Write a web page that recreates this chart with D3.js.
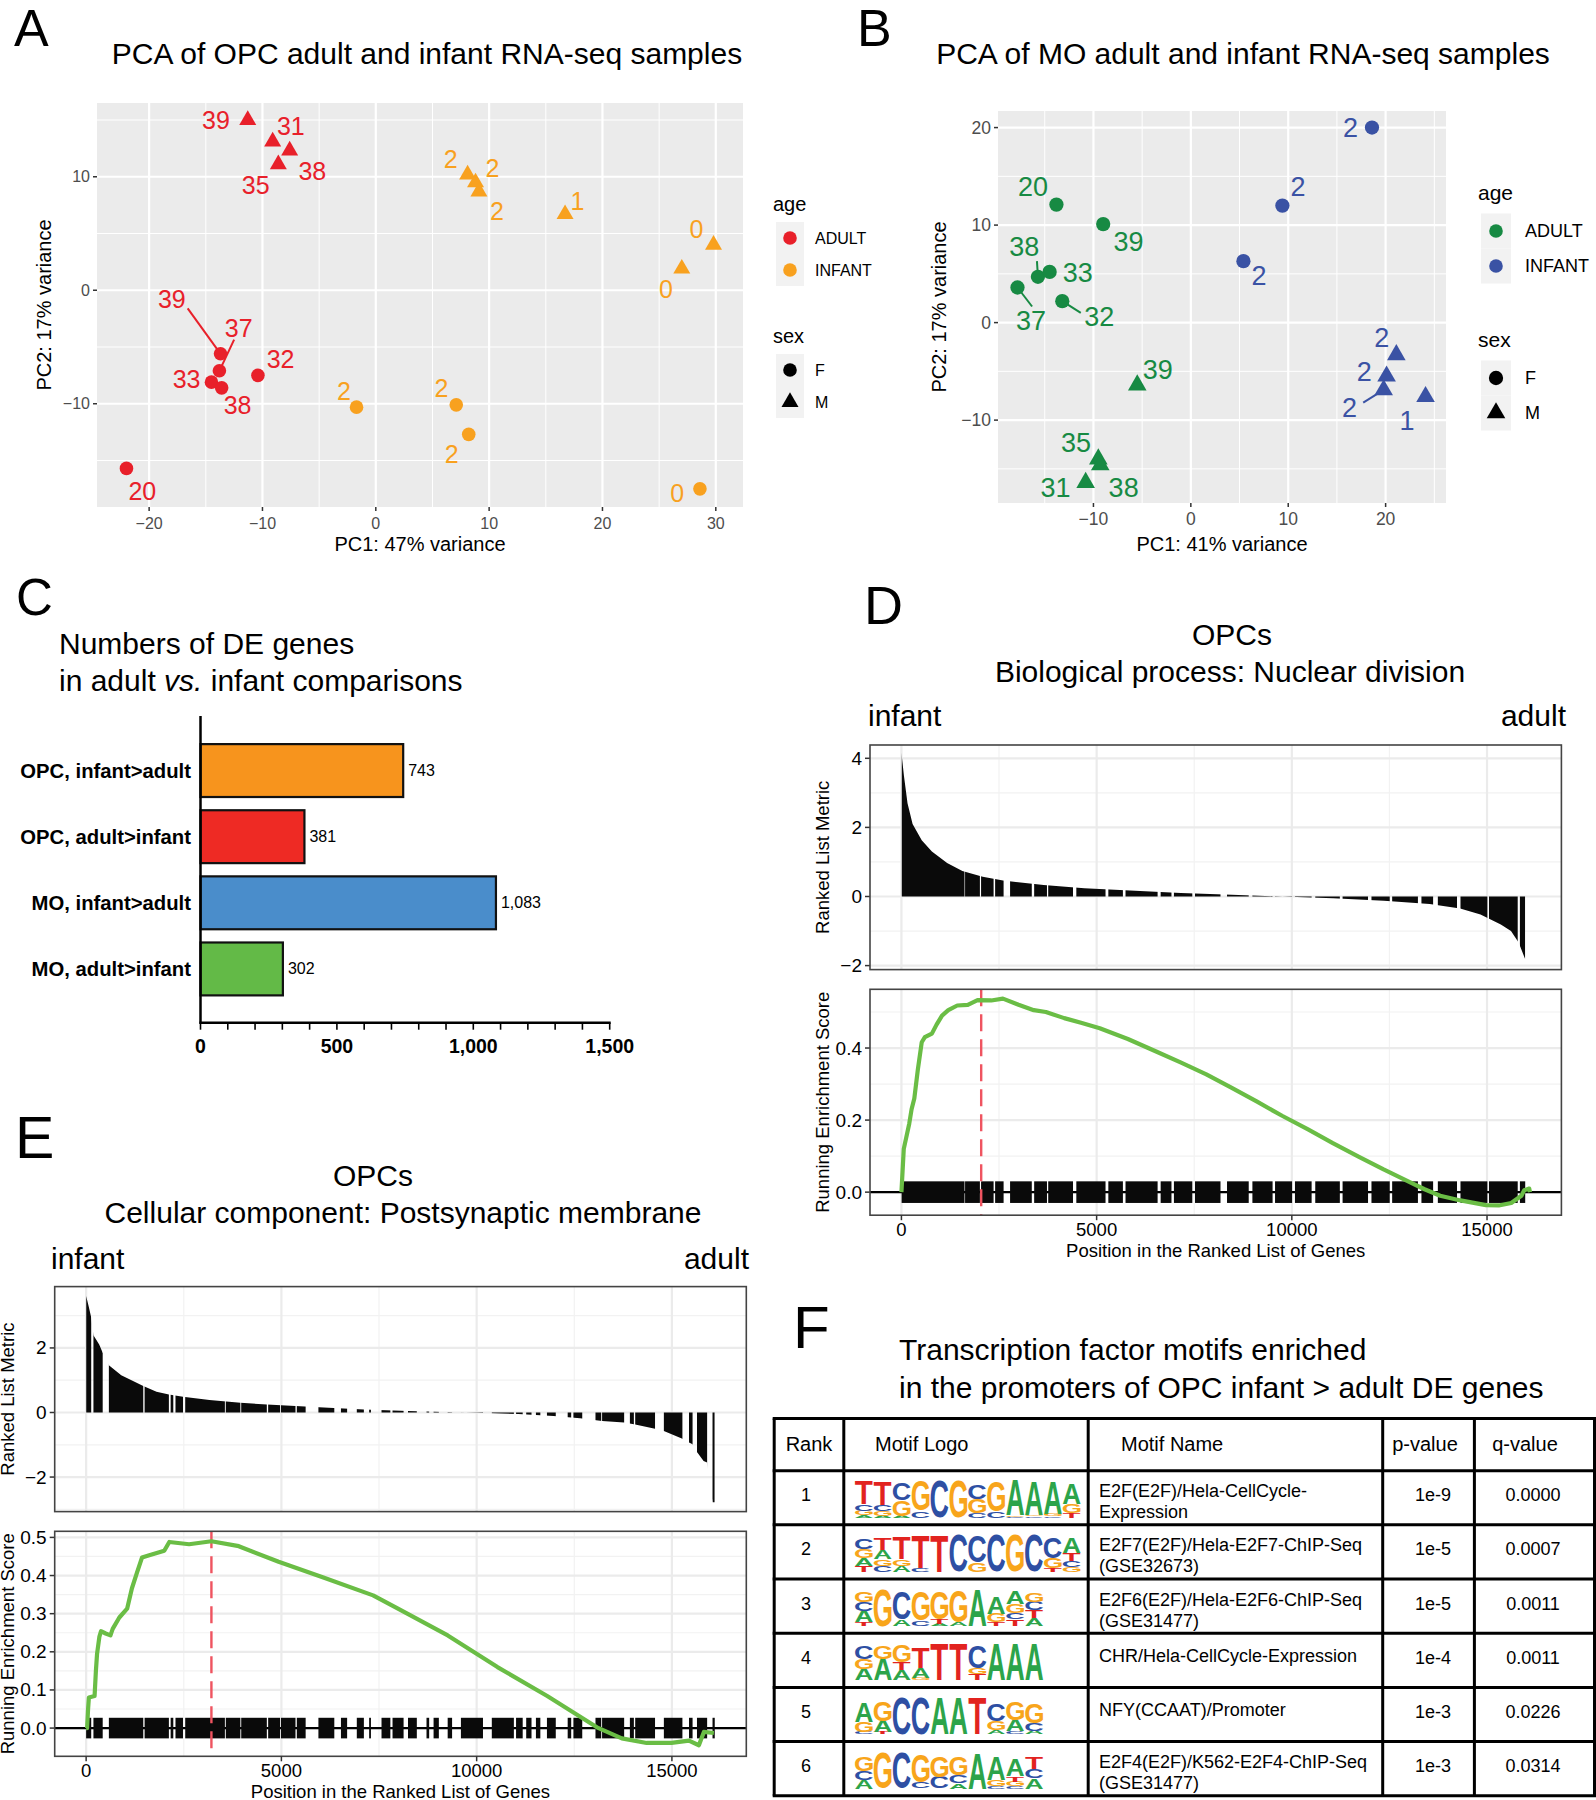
<!DOCTYPE html>
<html>
<head>
<meta charset="utf-8">
<script src="https://cdnjs.cloudflare.com/ajax/libs/d3/7.8.5/d3.min.js"></script>
<style>
  body { margin: 0; background: #fff; }
  text { font-family: "Liberation Sans", Arial, Helvetica, sans-serif; }
</style>
</head>
<body>
<svg id="fig" width="1596" height="1800"></svg>
<script>
// ---------- data ----------

// A: PCA of OPC samples
var opcSamples = [
  {label: '39', age: 'ADULT', sex: 'M', pc1: -11.3, pc2: 15.0, lx: -14.1, ly: 15.0},
  {label: '31', age: 'ADULT', sex: 'M', pc1: -9.1, pc2: 13.1, lx: -7.5, ly: 14.5},
  {label: '38', age: 'ADULT', sex: 'M', pc1: -7.6, pc2: 12.3, lx: -5.6, ly: 10.5},
  {label: '35', age: 'ADULT', sex: 'M', pc1: -8.6, pc2: 11.1, lx: -10.6, ly: 9.3},
  {label: '39', age: 'ADULT', sex: 'F', pc1: -13.7, pc2: -5.6, lx: -18.0, ly: -0.8, sx: -16.6, sy: -1.6},
  {label: '37', age: 'ADULT', sex: 'F', pc1: -13.8, pc2: -7.1, lx: -12.1, ly: -3.3, sx: -12.5, sy: -4.35},
  {label: '33', age: 'ADULT', sex: 'F', pc1: -14.5, pc2: -8.1, lx: -16.7, ly: -7.8},
  {label: '38', age: 'ADULT', sex: 'F', pc1: -13.6, pc2: -8.6, lx: -12.2, ly: -10.1},
  {label: '32', age: 'ADULT', sex: 'F', pc1: -10.4, pc2: -7.5, lx: -8.4, ly: -6.1},
  {label: '20', age: 'ADULT', sex: 'F', pc1: -22.0, pc2: -15.7, lx: -20.6, ly: -17.7},
  {label: '2', age: 'INFANT', sex: 'M', pc1: 8.1, pc2: 10.2, lx: 6.6, ly: 11.6},
  {label: '2', age: 'INFANT', sex: 'M', pc1: 8.8, pc2: 9.5, lx: 10.3, ly: 10.8},
  {label: '2', age: 'INFANT', sex: 'M', pc1: 9.1, pc2: 8.7, lx: 10.7, ly: 7.0},
  {label: '1', age: 'INFANT', sex: 'M', pc1: 16.7, pc2: 6.7, lx: 17.8, ly: 7.9},
  {label: '0', age: 'INFANT', sex: 'M', pc1: 29.8, pc2: 4.0, lx: 28.3, ly: 5.4},
  {label: '0', age: 'INFANT', sex: 'M', pc1: 27.0, pc2: 1.9, lx: 25.6, ly: 0.1},
  {label: '2', age: 'INFANT', sex: 'F', pc1: -1.7, pc2: -10.3, lx: -2.8, ly: -8.9},
  {label: '2', age: 'INFANT', sex: 'F', pc1: 7.1, pc2: -10.1, lx: 5.8, ly: -8.6},
  {label: '2', age: 'INFANT', sex: 'F', pc1: 8.2, pc2: -12.7, lx: 6.7, ly: -14.4},
  {label: '0', age: 'INFANT', sex: 'F', pc1: 28.6, pc2: -17.5, lx: 26.6, ly: -17.9}
];

// B: PCA of MO samples
var moSamples = [
  {label: '20', age: 'ADULT', sex: 'F', pc1: -13.8, pc2: 12.1, lx: -16.2, ly: 14.0},
  {label: '39', age: 'ADULT', sex: 'F', pc1: -9.0, pc2: 10.1, lx: -6.4, ly: 8.3},
  {label: '38', age: 'ADULT', sex: 'F', pc1: -15.7, pc2: 4.7, lx: -17.1, ly: 7.8, sx: -15.8, sy: 6.3},
  {label: '33', age: 'ADULT', sex: 'F', pc1: -14.5, pc2: 5.2, lx: -11.6, ly: 5.2},
  {label: '37', age: 'ADULT', sex: 'F', pc1: -17.8, pc2: 3.6, lx: -16.4, ly: 0.2, sx: -16.3, sy: 1.65},
  {label: '32', age: 'ADULT', sex: 'F', pc1: -13.2, pc2: 2.2, lx: -9.4, ly: 0.6, sx: -11.3, sy: 1.0},
  {label: '39', age: 'ADULT', sex: 'M', pc1: -5.5, pc2: -6.4, lx: -3.4, ly: -4.8},
  {label: '35', age: 'ADULT', sex: 'M', pc1: -9.5, pc2: -14.0, lx: -11.8, ly: -12.3},
  {label: '38', age: 'ADULT', sex: 'M', pc1: -9.3, pc2: -14.6, lx: -6.9, ly: -16.9},
  {label: '31', age: 'ADULT', sex: 'M', pc1: -10.8, pc2: -16.4, lx: -13.9, ly: -16.9},
  {label: '2', age: 'INFANT', sex: 'F', pc1: 18.6, pc2: 20.0, lx: 16.4, ly: 20.0},
  {label: '2', age: 'INFANT', sex: 'F', pc1: 9.4, pc2: 12.0, lx: 11.0, ly: 14.0},
  {label: '2', age: 'INFANT', sex: 'F', pc1: 5.4, pc2: 6.3, lx: 7.0, ly: 4.9},
  {label: '2', age: 'INFANT', sex: 'M', pc1: 21.1, pc2: -3.3, lx: 19.6, ly: -1.5},
  {label: '2', age: 'INFANT', sex: 'M', pc1: 20.1, pc2: -5.5, lx: 17.8, ly: -5.0},
  {label: '2', age: 'INFANT', sex: 'M', pc1: 19.8, pc2: -6.9, lx: 16.3, ly: -8.7, sx: 17.7, sy: -8.2},
  {label: '1', age: 'INFANT', sex: 'M', pc1: 24.1, pc2: -7.6, lx: 22.2, ly: -10.0}
];

// C: numbers of DE genes
var deCategories = ['OPC, infant>adult', 'OPC, adult>infant', 'MO, infant>adult', 'MO, adult>infant'];
var deCounts = [743, 381, 1083, 302];
var deColors = ['#f7941d', '#ee2a24', '#4a8dcb', '#63ba47'];
var deTicks = [0, 500, 1000, 1500];

// D: nuclear division (position, value)
var ndMetric = [[0, 4.16], [65, 3.49], [156, 2.70], [286, 2.10], [520, 1.63], [780, 1.30], [1170, 0.97],
  [1561, 0.74], [2082, 0.57], [2602, 0.46], [3643, 0.33], [4684, 0.24], [5855, 0.17], [7156, 0.10],
  [8457, 0.05], [9758, 0.0], [11059, -0.05], [12360, -0.12], [13531, -0.22], [14312, -0.35],
  [14833, -0.52], [15353, -0.81], [15614, -1.0], [15809, -1.33], [15978, -1.82]];
var ndHits = [[5, 1616], [1630, 2010], [2040, 2361], [2400, 2617], [2783, 3339], [3400, 3728], [3760, 4395],
  [4480, 5228], [5300, 5673], [5740, 6562], [6640, 6917], [6980, 7451], [7520, 8173], [8340, 8896],
  [8990, 9507], [9570, 10007], [10080, 10507], [10600, 11230], [11300, 11952], [12040, 12508],
  [12570, 13230], [13320, 13619], [13740, 14231], [14320, 15009], [15050, 15786], [15842, 15978]];
var ndEs = [[0, 0], [30, 0.06], [60, 0.12], [120, 0.15], [200, 0.19], [260, 0.23], [330, 0.26], [420, 0.34],
  [520, 0.416], [600, 0.43], [780, 0.44], [900, 0.465], [1040, 0.49], [1200, 0.505], [1430, 0.518],
  [1700, 0.52], [1950, 0.533], [2300, 0.532], [2600, 0.537], [3000, 0.52], [3390, 0.505], [3700, 0.50],
  [4170, 0.483], [4600, 0.47], [5080, 0.455], [5800, 0.425], [6510, 0.391], [7150, 0.36], [7810, 0.327],
  [8450, 0.29], [9110, 0.251], [9750, 0.212], [10415, 0.174], [11050, 0.136], [11720, 0.098],
  [12350, 0.063], [13020, 0.028], [13400, 0.008], [13800, -0.01], [14320, -0.023], [14970, -0.036],
  [15300, -0.037], [15620, -0.03], [15880, -0.01], [15950, 0.005], [16080, 0.01], [16100, 0.0]];
var ndPeak = 2043;

// E: postsynaptic membrane
var psMetric = [[0, 3.61], [63, 3.30], [130, 2.94], [187, 2.39], [334, 2.11], [424, 1.85], [582, 1.46],
  [899, 1.15], [1463, 0.82], [1802, 0.64], [2119, 0.56], [2480, 0.49], [3158, 0.39], [3949, 0.30],
  [4627, 0.25], [5361, 0.20], [6208, 0.15], [7112, 0.09], [8242, 0.05], [9371, 0.01], [10049, -0.01],
  [11066, -0.05], [11970, -0.11], [12648, -0.18], [13212, -0.26], [13777, -0.31], [14060, -0.37],
  [14568, -0.50], [14794, -0.57], [15269, -0.81], [15438, -0.93], [15529, -0.98], [15642, -1.22],
  [15811, -1.50], [15902, -1.55], [16040, -2.78], [16097, -2.78]];
var psHits = [[0, 130], [187, 424], [582, 1463], [1497, 2119], [2164, 2232], [2288, 2480], [2537, 3553],
  [3576, 3949], [3971, 4627], [4661, 4965], [4988, 5361], [5395, 5621], [5948, 6355], [6525, 6683],
  [6931, 7112], [7247, 7293], [7564, 7790], [7846, 8129], [8242, 8468], [8716, 8784], [8897, 9032],
  [9258, 9371], [9597, 10162], [10388, 10953], [11009, 11179], [11269, 11405], [11518, 11631],
  [11800, 12026], [12331, 12421], [12478, 12704], [13043, 13190], [13212, 13777], [13924, 14026],
  [14060, 14568], [14794, 15269], [15438, 15529], [15642, 15902], [16040, 16097]];
var psEs = [[0, 0], [25, 0.0], [50, 0.05], [70, 0.08], [216, 0.084], [250, 0.15], [280, 0.195], [340, 0.24],
  [380, 0.254], [500, 0.248], [623, 0.243], [680, 0.26], [850, 0.29], [1050, 0.313], [1171, 0.366],
  [1300, 0.407], [1430, 0.447], [1617, 0.453], [2000, 0.465], [2130, 0.488], [2637, 0.482], [3208, 0.49],
  [3909, 0.477], [4929, 0.436], [6075, 0.395], [7348, 0.348], [7985, 0.313], [9260, 0.243],
  [10533, 0.16], [11807, 0.084], [13080, 0.002], [13717, -0.027], [14354, -0.039], [14989, -0.039],
  [15435, -0.033], [15691, -0.045], [15819, -0.01], [16075, -0.013]];
var psPeak = 3208;

var geneAxisDomain = [-805, 16905];
var geneTicks = [0, 5000, 10000, 15000];

// F: motif table
var motifRanks = [1, 2, 3, 4, 5, 6];
var motifNames = [['E2F(E2F)/Hela-CellCycle-', 'Expression'], ['E2F7(E2F)/Hela-E2F7-ChIP-Seq', '(GSE32673)'],
  ['E2F6(E2F)/Hela-E2F6-ChIP-Seq', '(GSE31477)'], ['CHR/Hela-CellCycle-Expression'],
  ['NFY(CCAAT)/Promoter'], ['E2F4(E2F)/K562-E2F4-ChIP-Seq', '(GSE31477)']];
var motifPValues = ['1e-9', '1e-5', '1e-5', '1e-4', '1e-3', '1e-3'];
var motifQValues = ['0.0000', '0.0007', '0.0011', '0.0011', '0.0226', '0.0314'];
// each column: letters top to bottom with relative height (percent)
var motifLogos = [
  ['T58 C16 G12 A6', 'T58 C15 G12 A5', 'C42 G40 A5', 'G78 C18', 'C95', 'G93', 'C38 G36 C12', 'G78 C16',
   'A88 G4 C3', 'A86 G4 C4', 'A84 G5 C4', 'A52 G24 T12'],
  ['C25 G23 A20 T16', 'T29 A24 G16 C16', 'T55 G18 A15', 'T82 C9', 'T93', 'C93', 'C68 G24', 'C93', 'G93',
   'C93', 'C53 G25 T10', 'A41 T21 C16 G12'],
  ['G27 C23 A28 T10', 'G93', 'C72 A16', 'G74 C14', 'G72 T12 A5', 'G82 A8', 'A93', 'A42 G22 T9',
   'A33 G22 C17 T17', 'G22 C22 T20 A20'],
  ['C33 G25 A28', 'G33 A55', 'G42 T19 A27', 'T54 A27 G5', 'T93', 'T93', 'C57 G15 T15', 'A93', 'A93', 'A93'],
  ['A50 G27 C5', 'G52 A28 T5', 'C93', 'C93', 'A93', 'A93', 'T93', 'C42 G24 A10', 'G46 A28 C8', 'G50 C20 A9'],
  ['G37 C22 A22', 'G90', 'C90', 'G70 C15', 'G54 C30', 'G48 C20 A14', 'A90', 'A58 G15 C6', 'A42 T14 G12 C6',
   'T29 C22 A27']
];

// ---------- drawing ----------
var svg = d3.select('#fig');

function minusFmt(d) {
  return d < 0 ? '\u2212' + Math.abs(d) : String(d);
}

function panelLetter(txt, x, y, size) {
  svg.append('text').text(txt)
    .attr('x', x).attr('y', y)
    .attr('font-size', size);
}

function drawPca(cfg) {
  var g = svg.append('g');
  var x = d3.scaleLinear().domain(cfg.xDomain).range([cfg.left, cfg.right]);
  var y = d3.scaleLinear().domain(cfg.yDomain).range([cfg.bottom, cfg.top]);

  g.append('rect')
    .attr('x', cfg.left).attr('y', cfg.top)
    .attr('width', cfg.right - cfg.left).attr('height', cfg.bottom - cfg.top)
    .attr('fill', '#ebebeb');

  function vgrid(vals, w) {
    g.selectAll(null).data(vals).enter().append('line')
      .attr('x1', function(d) { return x(d); }).attr('x2', function(d) { return x(d); })
      .attr('y1', cfg.top).attr('y2', cfg.bottom)
      .attr('stroke', '#fff').attr('stroke-width', w);
  }
  function hgrid(vals, w) {
    g.selectAll(null).data(vals).enter().append('line')
      .attr('y1', function(d) { return y(d); }).attr('y2', function(d) { return y(d); })
      .attr('x1', cfg.left).attr('x2', cfg.right)
      .attr('stroke', '#fff').attr('stroke-width', w);
  }
  vgrid(cfg.xMinor, 1); hgrid(cfg.yMinor, 1);
  vgrid(cfg.xTicks, 2.2); hgrid(cfg.yTicks, 2.2);

  // axes ticks + labels
  g.selectAll(null).data(cfg.xTicks).enter().append('line')
    .attr('x1', function(d) { return x(d); }).attr('x2', function(d) { return x(d); })
    .attr('y1', cfg.bottom).attr('y2', cfg.bottom + 4)
    .attr('stroke', '#333').attr('stroke-width', 1.5);
  g.selectAll(null).data(cfg.xTicks).enter().append('text')
    .text(minusFmt)
    .attr('x', function(d) { return x(d); })
    .attr('y', cfg.bottom + 22)
    .attr('text-anchor', 'middle')
    .attr('font-size', cfg.tickSize).attr('fill', '#4d4d4d');
  g.selectAll(null).data(cfg.yTicks).enter().append('line')
    .attr('y1', function(d) { return y(d); }).attr('y2', function(d) { return y(d); })
    .attr('x1', cfg.left - 4).attr('x2', cfg.left)
    .attr('stroke', '#333').attr('stroke-width', 1.5);
  g.selectAll(null).data(cfg.yTicks).enter().append('text')
    .text(minusFmt)
    .attr('x', cfg.left - 7)
    .attr('y', function(d) { return y(d) + cfg.tickSize * 0.35; })
    .attr('text-anchor', 'end')
    .attr('font-size', cfg.tickSize).attr('fill', '#4d4d4d');

  g.append('text').text(cfg.xTitle)
    .attr('x', (cfg.left + cfg.right) / 2).attr('y', cfg.xTitleY)
    .attr('text-anchor', 'middle').attr('font-size', 20);
  g.append('text').text(cfg.yTitle)
    .attr('transform', 'translate(' + cfg.yTitleX + ',' + ((cfg.top + cfg.bottom) / 2) + ') rotate(-90)')
    .attr('text-anchor', 'middle').attr('font-size', 20);

  g.append('text').text(cfg.title)
    .attr('x', cfg.titleX).attr('y', 64)
    .attr('text-anchor', 'middle').attr('font-size', 30);

  // repel segments
  g.selectAll(null).data(cfg.samples.filter(function(d) { return d.sx !== undefined; }))
    .enter().append('line')
    .attr('x1', function(d) { return x(d.pc1); }).attr('y1', function(d) { return y(d.pc2); })
    .attr('x2', function(d) { return x(d.sx); }).attr('y2', function(d) { return y(d.sy); })
    .attr('stroke', function(d) { return cfg.colors[d.age]; })
    .attr('stroke-width', 2);

  var sym = d3.symbol()
    .type(function(d) { return d.sex === 'M' ? d3.symbolTriangle : d3.symbolCircle; })
    .size(function(d) { return d.sex === 'M' ? cfg.triSize : cfg.circleSize; });

  g.selectAll(null).data(cfg.samples).enter().append('path')
    .attr('transform', function(d) { return 'translate(' + x(d.pc1) + ',' + y(d.pc2) + ')'; })
    .attr('d', sym)
    .attr('fill', function(d) { return cfg.colors[d.age]; });

  g.selectAll(null).data(cfg.samples).enter().append('text')
    .text(function(d) { return d.label; })
    .attr('x', function(d) { return x(d.lx); })
    .attr('y', function(d) { return y(d.ly) + cfg.labelSize * 0.36; })
    .attr('text-anchor', 'middle')
    .attr('font-size', cfg.labelSize)
    .attr('fill', function(d) { return cfg.colors[d.age]; });

  // legend
  var lg = cfg.legend;
  g.append('text').text('age').attr('x', lg.x - 3).attr('y', lg.ageTitleY).attr('font-size', lg.titleSize);
  g.append('text').text('sex').attr('x', lg.x - 3).attr('y', lg.sexTitleY).attr('font-size', lg.titleSize);
  var ageKeys = ['ADULT', 'INFANT'];
  var sexKeys = ['F', 'M'];
  ageKeys.forEach(function(k, i) {
    var cy = lg.ageKeyY + i * lg.step;
    g.append('rect').attr('x', lg.x).attr('y', cy - lg.step / 2).attr('width', lg.keyW).attr('height', lg.step)
      .attr('fill', '#f2f2f2');
    g.append('circle').attr('cx', lg.x + lg.keyW / 2).attr('cy', cy).attr('r', 6.8).attr('fill', cfg.colors[k]);
    g.append('text').text(k).attr('x', lg.labelX).attr('y', cy + lg.labelSize * 0.36).attr('font-size', lg.labelSize);
  });
  sexKeys.forEach(function(k, i) {
    var cy = lg.sexKeyY + i * lg.step;
    g.append('rect').attr('x', lg.x).attr('y', cy - lg.step / 2).attr('width', lg.keyW).attr('height', lg.step)
      .attr('fill', '#f2f2f2');
    g.append('path')
      .attr('transform', 'translate(' + (lg.x + lg.keyW / 2) + ',' + cy + ')')
      .attr('d', d3.symbol().type(k === 'M' ? d3.symbolTriangle : d3.symbolCircle).size(k === 'M' ? cfg.triSize : cfg.circleSize)())
      .attr('fill', '#000');
    g.append('text').text(k).attr('x', lg.labelX).attr('y', cy + lg.labelSize * 0.36).attr('font-size', lg.labelSize);
  });
}

// ---------- A ----------
panelLetter('A', 14, 46, 52);
drawPca({
  samples: opcSamples,
  title: 'PCA of OPC adult and infant RNA-seq samples', titleX: 427,
  xTitle: 'PC1: 47% variance', yTitle: 'PC2: 17% variance', yTitleX: 51, xTitleY: 551,
  left: 97, right: 743, top: 103, bottom: 507,
  xDomain: [-24.6, 32.4], yDomain: [-19.1, 16.5],
  xTicks: [-20, -10, 0, 10, 20, 30], xMinor: [-15, -5, 5, 15, 25],
  yTicks: [-10, 0, 10], yMinor: [-15, -5, 5, 15],
  colors: {ADULT: '#e8202a', INFANT: '#f8a11f'},
  tickSize: 16, labelSize: 25, triSize: 125, circleSize: 145,
  legend: {x: 776, keyW: 28, step: 32, labelX: 815, labelSize: 16, titleSize: 20,
           ageTitleY: 211, ageKeyY: 238, sexTitleY: 343, sexKeyY: 370}
});

// ---------- B ----------
panelLetter('B', 857, 46, 52);
drawPca({
  samples: moSamples,
  title: 'PCA of MO adult and infant RNA-seq samples', titleX: 1243,
  xTitle: 'PC1: 41% variance', yTitle: 'PC2: 17% variance', yTitleX: 946, xTitleY: 551,
  left: 998, right: 1446, top: 111, bottom: 503,
  xDomain: [-19.8, 26.2], yDomain: [-18.5, 21.7],
  xTicks: [-10, 0, 10, 20], xMinor: [-15, -5, 5, 15, 25],
  yTicks: [-10, 0, 10, 20], yMinor: [-15, -5, 5, 15],
  colors: {ADULT: '#178a43', INFANT: '#3a52a4'},
  tickSize: 17.5, labelSize: 27, triSize: 150, circleSize: 160,
  legend: {x: 1481, keyW: 30, step: 35, labelX: 1525, labelSize: 18, titleSize: 21,
           ageTitleY: 200, ageKeyY: 231, sexTitleY: 347, sexKeyY: 378}
});

// ---------- C ----------
panelLetter('C', 16, 615, 51);
(function() {
  var g = svg.append('g');
  g.append('text').text('Numbers of DE genes').attr('x', 59).attr('y', 654).attr('font-size', 30);
  var t2 = g.append('text').attr('x', 59).attr('y', 691).attr('font-size', 30);
  t2.append('tspan').text('in adult ');
  t2.append('tspan').text('vs.').attr('font-style', 'italic');
  t2.append('tspan').text(' infant comparisons');

  var x = d3.scaleLinear().domain([0, 1500]).range([200.5, 609.7]);
  var y = d3.scaleBand().domain(deCategories).range([737.5, 1002]).paddingInner(0.2).paddingOuter(0.1);
  var axisY = 1022.7;

  g.selectAll('rect.bar').data(deCategories).enter().append('rect')
    .attr('class', 'bar')
    .attr('x', x(0))
    .attr('y', function(d) { return y(d); })
    .attr('width', function(d, i) { return x(deCounts[i]) - x(0); })
    .attr('height', y.bandwidth())
    .attr('fill', function(d, i) { return deColors[i]; })
    .attr('stroke', '#111').attr('stroke-width', 2.2);

  g.selectAll(null).data(deCategories).enter().append('text')
    .text(function(d, i) { return d3.format(',')(deCounts[i]); })
    .attr('x', function(d, i) { return x(deCounts[i]) + 5; })
    .attr('y', function(d) { return y(d) + y.bandwidth() / 2 + 5.5; })
    .attr('font-size', 16);

  g.selectAll(null).data(deCategories).enter().append('text')
    .text(function(d) { return d; })
    .attr('x', 191)
    .attr('y', function(d) { return y(d) + y.bandwidth() / 2 + 7; })
    .attr('text-anchor', 'end')
    .attr('font-weight', 'bold')
    .attr('font-size', 20.3);

  // axes
  g.append('line').attr('x1', x(0)).attr('x2', x(0)).attr('y1', 716).attr('y2', axisY + 1)
    .attr('stroke', '#000').attr('stroke-width', 2.5);
  g.append('line').attr('x1', x(0) - 1).attr('x2', x(1500) + 1).attr('y1', axisY).attr('y2', axisY)
    .attr('stroke', '#000').attr('stroke-width', 2.5);
  g.selectAll(null).data(d3.range(0, 1501, 100)).enter().append('line')
    .attr('x1', function(d) { return x(d); }).attr('x2', function(d) { return x(d); })
    .attr('y1', axisY).attr('y2', axisY + 7)
    .attr('stroke', '#000').attr('stroke-width', 1.6);
  g.selectAll(null).data(deTicks).enter().append('text')
    .text(d3.format(','))
    .attr('x', function(d) { return x(d); })
    .attr('y', 1053)
    .attr('text-anchor', 'middle')
    .attr('font-weight', 'bold')
    .attr('font-size', 19.5);
})();

// ---------- D / E ----------
function drawGsea(cfg) {
  var g = svg.append('g');
  var x = d3.scaleLinear().domain(geneAxisDomain).range([cfg.left, cfg.right]);
  var yM = d3.scaleLinear().domain(cfg.metricDomain).range([cfg.mBottom, cfg.mTop]);
  var yE = d3.scaleLinear().domain(cfg.esDomain).range([cfg.eBottom, cfg.eTop]);
  var xMinor = [2500, 7500, 12500];

  function grid(top, bottom, yScale, major, minor, fmt) {
    g.append('rect').attr('x', cfg.left).attr('y', top)
      .attr('width', cfg.right - cfg.left).attr('height', bottom - top).attr('fill', '#fff');
    g.selectAll(null).data(minor).enter().append('line')
      .attr('x1', cfg.left).attr('x2', cfg.right)
      .attr('y1', function(d) { return yScale(d); }).attr('y2', function(d) { return yScale(d); })
      .attr('stroke', '#f2f2f2').attr('stroke-width', 1.2);
    g.selectAll(null).data(xMinor).enter().append('line')
      .attr('y1', top).attr('y2', bottom)
      .attr('x1', function(d) { return x(d); }).attr('x2', function(d) { return x(d); })
      .attr('stroke', '#f2f2f2').attr('stroke-width', 1.2);
    g.selectAll(null).data(major).enter().append('line')
      .attr('x1', cfg.left).attr('x2', cfg.right)
      .attr('y1', function(d) { return yScale(d); }).attr('y2', function(d) { return yScale(d); })
      .attr('stroke', '#ebebeb').attr('stroke-width', 2.2);
    g.selectAll(null).data(geneTicks).enter().append('line')
      .attr('y1', top).attr('y2', bottom)
      .attr('x1', function(d) { return x(d); }).attr('x2', function(d) { return x(d); })
      .attr('stroke', '#ebebeb').attr('stroke-width', 2.2);
    // y ticks
    g.selectAll(null).data(major).enter().append('line')
      .attr('x1', cfg.left - 5).attr('x2', cfg.left)
      .attr('y1', function(d) { return yScale(d); }).attr('y2', function(d) { return yScale(d); })
      .attr('stroke', '#333').attr('stroke-width', 1.5);
    g.selectAll(null).data(major).enter().append('text')
      .text(fmt)
      .attr('x', cfg.left - 8)
      .attr('y', function(d) { return yScale(d) + 6.5; })
      .attr('text-anchor', 'end').attr('font-size', 19);
  }

  grid(cfg.mTop, cfg.mBottom, yM, cfg.metricTicks, cfg.metricMinor, minusFmt);
  grid(cfg.eTop, cfg.eBottom, yE, cfg.esTicks, cfg.esMinor, d3.format('.1f'));

  // ranked metric bars, shown at the hit positions only
  var clipId = cfg.id + '-clip';
  g.append('clipPath').attr('id', clipId)
    .selectAll('rect').data(cfg.hits).enter().append('rect')
    .attr('x', function(d) { return x(d[0]); })
    .attr('width', function(d) { return Math.max(1.6, x(d[1]) - x(d[0])); })
    .attr('y', cfg.mTop).attr('height', cfg.mBottom - cfg.mTop);
  g.append('path')
    .datum(cfg.metric)
    .attr('clip-path', 'url(#' + clipId + ')')
    .attr('d', d3.area()
      .x(function(d) { return x(d[0]); })
      .y0(yM(0))
      .y1(function(d) { return yM(d[1]); }))
    .attr('fill', '#0a0a0a');

  // running enrichment score
  g.append('line')
    .attr('x1', cfg.left).attr('x2', cfg.right).attr('y1', yE(0)).attr('y2', yE(0))
    .attr('stroke', '#000').attr('stroke-width', 2.2);
  g.selectAll(null).data(cfg.hits).enter().append('rect')
    .attr('x', function(d) { return x(d[0]); })
    .attr('width', function(d) { return Math.max(1.6, x(d[1]) - x(d[0])); })
    .attr('y', yE(cfg.rug)).attr('height', yE(-cfg.rug) - yE(cfg.rug))
    .attr('fill', '#0a0a0a');
  g.append('line')
    .attr('x1', x(cfg.peak)).attr('x2', x(cfg.peak))
    .attr('y1', cfg.eTop).attr('y2', cfg.eBottom)
    .attr('stroke', '#ef5460').attr('stroke-width', 2.4)
    .attr('stroke-dasharray', '17,8');
  g.append('path')
    .datum(cfg.es)
    .attr('d', d3.line()
      .x(function(d) { return x(d[0]); })
      .y(function(d) { return yE(d[1]); }))
    .attr('fill', 'none')
    .attr('stroke', '#6abd45').attr('stroke-width', 4.2)
    .attr('stroke-linejoin', 'round');

  // frames
  [[cfg.mTop, cfg.mBottom], [cfg.eTop, cfg.eBottom]].forEach(function(p) {
    g.append('rect').attr('x', cfg.left).attr('y', p[0])
      .attr('width', cfg.right - cfg.left).attr('height', p[1] - p[0])
      .attr('fill', 'none').attr('stroke', '#444').attr('stroke-width', 1.6);
  });

  // x axis
  g.selectAll(null).data(geneTicks).enter().append('line')
    .attr('x1', function(d) { return x(d); }).attr('x2', function(d) { return x(d); })
    .attr('y1', cfg.eBottom).attr('y2', cfg.eBottom + 5)
    .attr('stroke', '#333').attr('stroke-width', 1.5);
  g.selectAll(null).data(geneTicks).enter().append('text')
    .text(String)
    .attr('x', function(d) { return x(d); })
    .attr('y', cfg.eBottom + 20.5)
    .attr('text-anchor', 'middle').attr('font-size', 18.5);
  g.append('text').text('Position in the Ranked List of Genes')
    .attr('x', (cfg.left + cfg.right) / 2).attr('y', cfg.eBottom + 41.5)
    .attr('text-anchor', 'middle').attr('font-size', 18.5);

  g.append('text').text('Ranked List Metric')
    .attr('transform', 'translate(' + cfg.yTitleX + ',' + ((cfg.mTop + cfg.mBottom) / 2) + ') rotate(-90)')
    .attr('text-anchor', 'middle').attr('font-size', 18.5);
  g.append('text').text('Running Enrichment Score')
    .attr('transform', 'translate(' + cfg.yTitleX + ',' + ((cfg.eTop + cfg.eBottom) / 2) + ') rotate(-90)')
    .attr('text-anchor', 'middle').attr('font-size', 18.5);

  // titles
  g.append('text').text('OPCs').attr('x', cfg.titleX1).attr('y', cfg.titleY1)
    .attr('text-anchor', 'middle').attr('font-size', 30);
  g.append('text').text(cfg.subtitle).attr('x', cfg.titleX2).attr('y', cfg.titleY2)
    .attr('text-anchor', 'middle').attr('font-size', 30);
  g.append('text').text('infant').attr('x', cfg.infantX).attr('y', cfg.sideY).attr('font-size', 30);
  g.append('text').text('adult').attr('x', cfg.adultX).attr('y', cfg.sideY)
    .attr('text-anchor', 'end').attr('font-size', 30);
}

panelLetter('D', 864, 624, 54);
drawGsea({
  id: 'nd', metric: ndMetric, hits: ndHits, es: ndEs, peak: ndPeak, rug: 0.03,
  left: 870, right: 1561.4, mTop: 745, mBottom: 969.6, eTop: 989.3, eBottom: 1215.2,
  metricDomain: [-2.116, 4.385], metricTicks: [4, 2, 0, -2], metricMinor: [3, 1, -1],
  esDomain: [-0.064, 0.563], esTicks: [0, 0.2, 0.4], esMinor: [0.1, 0.3, 0.5],
  yTitleX: 829,
  subtitle: 'Biological process: Nuclear division',
  titleX1: 1232, titleY1: 645, titleX2: 1230, titleY2: 682,
  infantX: 868, adultX: 1566, sideY: 726
});

panelLetter('E', 15, 1158, 59);
drawGsea({
  id: 'ps', metric: psMetric, hits: psHits, es: psEs, peak: psPeak, rug: 0.027,
  left: 54.7, right: 746.3, mTop: 1286.6, mBottom: 1511.6, eTop: 1531.3, eBottom: 1756.3,
  metricDomain: [-3.07, 3.90], metricTicks: [2, 0, -2], metricMinor: [3, 1, -1, -3],
  esDomain: [-0.074, 0.516], esTicks: [0, 0.1, 0.2, 0.3, 0.4, 0.5], esMinor: [0.05, 0.15, 0.25, 0.35, 0.45],
  yTitleX: 14,
  subtitle: 'Cellular component: Postsynaptic membrane',
  titleX1: 373, titleY1: 1186, titleX2: 403, titleY2: 1223,
  infantX: 51, adultX: 749, sideY: 1269
});

// ---------- F ----------
panelLetter('F', 793, 1348, 60);
(function() {
  var g = svg.append('g');
  g.append('text').text('Transcription factor motifs enriched').attr('x', 899).attr('y', 1360).attr('font-size', 30);
  g.append('text').text('in the promoters of OPC infant > adult DE genes').attr('x', 899).attr('y', 1398).attr('font-size', 30);

  var colX = [774.2, 843.8, 1088.2, 1382.7, 1474.4, 1594.5];
  var tableTop = 1418.6, headBottom = 1470.7, rowH = 54.17;
  var rowY = function(i) { return headBottom + i * rowH; };

  // header
  var headY = 1451;
  g.append('text').text('Rank').attr('x', 809).attr('y', headY).attr('text-anchor', 'middle').attr('font-size', 20);
  g.append('text').text('Motif Logo').attr('x', 875).attr('y', headY).attr('font-size', 20);
  g.append('text').text('Motif Name').attr('x', 1121).attr('y', headY).attr('font-size', 20);
  g.append('text').text('p-value').attr('x', 1425).attr('y', headY).attr('text-anchor', 'middle').attr('font-size', 20);
  g.append('text').text('q-value').attr('x', 1525).attr('y', headY).attr('text-anchor', 'middle').attr('font-size', 20);

  motifRanks.forEach(function(r, i) {
    var mid = rowY(i) + rowH / 2;
    g.append('text').text(r).attr('x', 806).attr('y', mid + 3.5).attr('text-anchor', 'middle').attr('font-size', 18);
    g.append('text').text(motifPValues[i]).attr('x', 1433).attr('y', mid + 3.5).attr('text-anchor', 'middle').attr('font-size', 18);
    g.append('text').text(motifQValues[i]).attr('x', 1533).attr('y', mid + 3.5).attr('text-anchor', 'middle').attr('font-size', 18);
    var lines = motifNames[i];
    lines.forEach(function(line, j) {
      var by = lines.length === 1 ? mid + 2 : mid - 0.5 + j * 21;
      g.append('text').text(line).attr('x', 1099).attr('y', by).attr('font-size', 18);
    });
  });

  // motif logos
  var ctx = document.createElement('canvas').getContext('2d');
  ctx.font = 'bold 100px "Liberation Sans"';
  var glyph = {};
  'ACGT'.split('').forEach(function(c) {
    var m = ctx.measureText(c);
    glyph[c] = {l: m.actualBoundingBoxLeft, r: m.actualBoundingBoxRight,
                a: m.actualBoundingBoxAscent, d: m.actualBoundingBoxDescent};
  });
  var letterColor = {A: '#2ca44a', C: '#2e4fa3', G: '#f8a51b', T: '#e2231f'};
  var colW = 18.8;

  motifLogos.forEach(function(cols, i) {
    var bottom = rowY(i) + 47;
    var xb = d3.scaleBand().domain(d3.range(cols.length))
      .range([855, 855 + cols.length * colW]).paddingInner(0.06);
    var yb = d3.scaleLinear().domain([0, 100]).range([bottom, bottom - 39]);
    var logo = g.append('g').attr('class', 'logo');
    cols.forEach(function(col, ci) {
      var parts = col.split(' ').map(function(s) { return {ch: s[0], h: +s.slice(1)}; });
      var acc = 0;
      parts.reverse().forEach(function(p) {
        var y0 = yb(acc), y1 = yb(acc + p.h);
        acc += p.h;
        var gb = glyph[p.ch];
        var w = xb.bandwidth(), h = y0 - y1;
        var sx = w / (gb.l + gb.r), sy = h / (gb.a + gb.d);
        logo.append('text').text(p.ch)
          .attr('font-size', 100).attr('font-weight', 'bold')
          .attr('fill', letterColor[p.ch])
          .attr('transform', 'translate(' + (xb(ci) + gb.l * sx) + ',' + (y1 + gb.a * sy) + ') scale(' + sx + ',' + sy + ')');
      });
    });
  });

  // grid lines of the table
  var hY = [tableTop, headBottom].concat(d3.range(1, 7).map(rowY));
  g.selectAll(null).data(hY).enter().append('line')
    .attr('x1', colX[0] - 1.5).attr('x2', colX[colX.length - 1] + 1.5)
    .attr('y1', function(d) { return d; }).attr('y2', function(d) { return d; })
    .attr('stroke', '#000').attr('stroke-width', 3);
  g.selectAll(null).data(colX).enter().append('line')
    .attr('x1', function(d) { return d; }).attr('x2', function(d) { return d; })
    .attr('y1', tableTop).attr('y2', rowY(6))
    .attr('stroke', '#000').attr('stroke-width', 3);
})();
</script>
</body>
</html>
